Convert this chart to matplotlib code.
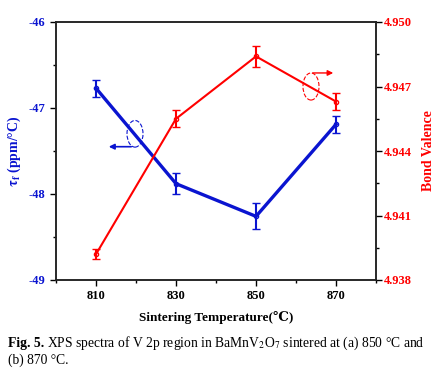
import matplotlib
matplotlib.use('Agg')
import matplotlib.pyplot as plt
from matplotlib.patches import Ellipse

# Data
temps = [810, 830, 850, 870]
tau_f = [-46.77, -47.88, -48.26, -47.19]
tau_err = [0.10, 0.12, 0.15, 0.10]
valence = [4.9392, 4.9455, 4.9484, 4.9463]
valence_err = [0.00023, 0.0004, 0.0005, 0.0004]

left_ticks = [-46, -47, -48, -49]
right_ticks = [4.938, 4.941, 4.944, 4.947, 4.950]

plt.rcParams['font.family'] = ['Liberation Serif', 'DejaVu Serif']
plt.rcParams['mathtext.fontset'] = 'stix'
plt.rcParams['axes.unicode_minus'] = False

fig = plt.figure(figsize=(4.34, 3.8), dpi=100)
ax = fig.add_axes([56 / 434, 1 - 280 / 380, 320 / 434, 258 / 380])
ax2 = ax.twinx()

blue = '#0a14d0'
red = '#ff0000'

ax.errorbar(temps, tau_f, yerr=tau_err, color=blue, lw=2.4, marker='o', ms=3,
            mfc='none', mew=1, capsize=3, elinewidth=1.5, capthick=1.5, zorder=3)
ax2.errorbar(temps, valence, yerr=valence_err, color=red, lw=1.5, marker='o', ms=3,
             mfc='none', mew=1, capsize=3, elinewidth=1.5, capthick=1.5)

ax.set_xlim(800, 880)
ax.set_ylim(-49, -46)
ax2.set_ylim(4.938, 4.950)

ax.set_xticks(temps)
ax.set_xticks([800, 820, 840, 860, 880], minor=True)
ax.set_yticks(left_ticks)
ax.set_yticks([-46.5, -47.5, -48.5], minor=True)
ax2.set_yticks(right_ticks)
ax2.set_yticks([4.9395, 4.9425, 4.9455, 4.9485], minor=True)
ax2.set_yticklabels(['%.3f' % t for t in right_ticks])

ax.tick_params(axis='x', direction='out', length=4, width=1, labelsize=9)
ax.tick_params(axis='x', which='minor', direction='out', length=2.5, width=1)
ax.tick_params(axis='y', direction='out', length=4, width=1, labelsize=9,
               labelcolor=blue)
ax.tick_params(axis='y', which='minor', direction='out', length=2.5, width=1)
ax2.tick_params(axis='y', direction='out', length=4, width=1, labelsize=9,
                labelcolor=red, pad=2)
ax2.tick_params(axis='y', which='minor', direction='out', length=2.5, width=1)
for lab in ax.get_xticklabels() + ax.get_yticklabels() + ax2.get_yticklabels():
    lab.set_fontweight('bold')

for a in (ax, ax2):
    for s in a.spines.values():
        s.set_linewidth(1.1)
        s.set_color('#222222')

ax.set_xlabel('Sintering Temperature(\u2103)', fontsize=9.5, fontweight='bold',
              labelpad=6)
ax.set_ylabel('$\\mathbf{\\tau_f}$ (ppm/°C)', fontsize=10, fontweight='bold',
              color=blue, labelpad=4)
ax2.set_ylabel('Bond Valence', fontsize=10, fontweight='bold', color=red,
               rotation=90)
ax2.yaxis.set_label_coords(1.165, 0.5)
ax2.yaxis.label.set_verticalalignment('center')

# dashed ellipses with arrows pointing at the matching axis
ax.add_patch(Ellipse((819.75, -47.30), 4.0, 0.31, fill=False, ls='--', lw=0.8,
                     color=blue))
ax.annotate('', xy=(812.5, -47.45), xytext=(819.5, -47.45),
            arrowprops=dict(arrowstyle='-|>', color=blue, lw=1.2,
                            mutation_scale=8))
ax2.add_patch(Ellipse((863.75, 4.9470), 4.0, 0.00126, fill=False, ls='--', lw=0.8,
                      color=red))
ax2.annotate('', xy=(870.0, 4.94763), xytext=(863.5, 4.94763),
             arrowprops=dict(arrowstyle='-|>', color=red, lw=1.0,
                             mutation_scale=8))

fig.text(8 / 434, 1 - 343 / 380, 'Fig. 5.', fontsize=9.8, fontweight='bold',
         va='center')
fig.text(47 / 434, 1 - 343 / 380,
         r'XPS spectra of V 2p region in BaMnV$_2$O$_7$ sintered at (a) 850 °C and',
         fontsize=9.8, va='center')
fig.text(8 / 434, 1 - 360 / 380, '(b) 870 °C.', fontsize=9.8, va='center')

fig.savefig('out.png', dpi=100)
